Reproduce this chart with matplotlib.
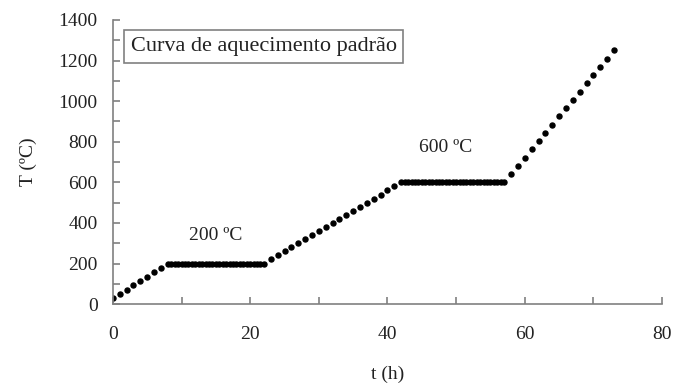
import numpy as np
import matplotlib
matplotlib.use("Agg")
import matplotlib.pyplot as plt
from matplotlib.ticker import MultipleLocator

# rampa 1 (ate 200 C), passo de 1 h
t_r1 = [0, 1, 2, 3, 4, 5, 6, 7, 8]
T_r1 = [30, 51, 72, 94, 115, 136, 158, 179, 200]
# patamar 200 C, passo de 0.5 h
t_p1 = [8.5, 9, 9.5, 10, 10.5, 11, 11.5, 12, 12.5, 13, 13.5, 14, 14.5, 15,
        15.5, 16, 16.5, 17, 17.5, 18, 18.5, 19, 19.5, 20, 20.5, 21, 21.5, 22]
T_p1 = [200] * len(t_p1)
# rampa 2 (ate 600 C)
t_r2 = [23, 24, 25, 26, 27, 28, 29, 30, 31, 32, 33, 34, 35, 36, 37, 38, 39, 40, 41, 42]
T_r2 = [220, 240, 260, 280, 300, 320, 340, 360, 380, 400,
        420, 440, 460, 480, 500, 520, 540, 560, 580, 600]
# patamar 600 C
t_p2 = [42.5, 43, 43.5, 44, 44.5, 45, 45.5, 46, 46.5, 47, 47.5, 48, 48.5, 49,
        49.5, 50, 50.5, 51, 51.5, 52, 52.5, 53, 53.5, 54, 54.5, 55, 55.5, 56, 56.5, 57]
T_p2 = [600] * len(t_p2)
# rampa 3 (ate ~1250 C)
t_r3 = [58, 59, 60, 61, 62, 63, 64, 65, 66, 67, 68, 69, 70, 71, 72, 73]
T_r3 = [641, 681, 722, 763, 803, 844, 884, 925, 966, 1006, 1047, 1088, 1128, 1169, 1209, 1250]

t = t_r1 + t_p1 + t_r2 + t_p2 + t_r3
T = T_r1 + T_p1 + T_r2 + T_p2 + T_r3

plt.rcParams['font.family'] = ['Liberation Serif', 'DejaVu Serif']
txt = '#222222'
ax_col = '#808080'

fig = plt.figure(figsize=(6.84, 3.84), dpi=100)
ax = fig.add_axes([0.165, 0.208, 0.803, 0.740])
ax.plot(t, T, linestyle='none', marker='o', markersize=3.6, color='black')

ax.set_xlim(0, 80)
ax.set_ylim(0, 1400)
ax.xaxis.set_major_locator(MultipleLocator(20))
ax.xaxis.set_minor_locator(MultipleLocator(10))
ax.yaxis.set_major_locator(MultipleLocator(200))
ax.yaxis.set_minor_locator(MultipleLocator(100))
for s in ['top', 'right']:
    ax.spines[s].set_visible(False)
for s in ['left', 'bottom']:
    ax.spines[s].set_color(ax_col)
    ax.spines[s].set_linewidth(1.2)
ax.tick_params(which='both', direction='in', length=5, width=1.2, color=ax_col,
               labelsize=14, labelcolor=txt)
ax.tick_params(axis='x', pad=16)
ax.tick_params(axis='y', pad=11)

ax.set_xlabel("t (h)", fontsize=14, color=txt, labelpad=16)
ax.set_ylabel("T (ºC)", fontsize=14, color=txt, labelpad=15)

ax.text(15, 340, "200 ºC", fontsize=14, color=txt, ha='center', va='center')
ax.text(48.5, 770, "600 ºC", fontsize=14, color=txt, ha='center', va='center')
ax.text(2.6, 1269, "Curva de aquecimento padrão", fontsize=16, color=txt,
        ha='left', va='center',
        bbox=dict(boxstyle='square,pad=0.3', facecolor='white', edgecolor=ax_col, linewidth=1.2))

fig.savefig("out.png", dpi=100)
